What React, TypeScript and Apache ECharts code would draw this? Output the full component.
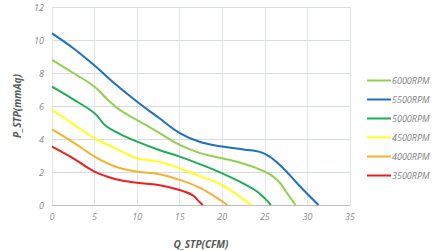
import React, { useEffect, useRef } from "react";
import * as echarts from "echarts";

const seriesNames = ["6000RPM", "5500RPM", "5000RPM", "4500RPM", "4000RPM", "3500RPM"];
const seriesColors = ["#92d050", "#1f6fbf", "#1fae55", "#ffff1a", "#f5b22e", "#f01e1e"];

const s6000: number[][] = [[0, 8.8], [2.5, 8.0], [5, 7.17], [6.5, 6.4], [8, 5.75], [10, 5.15], [12.5, 4.4], [15, 3.64], [17.5, 3.13], [20, 2.83], [22.5, 2.5], [25, 2.02], [26.5, 1.5], [27.5, 0.8], [28.6, 0]];
const s5500: number[][] = [[0, 10.4], [2.5, 9.5], [5, 8.45], [7.5, 7.3], [10, 6.26], [12.5, 5.3], [15, 4.36], [17.5, 3.8], [20, 3.54], [22.5, 3.37], [25, 3.1], [27, 2.3], [29, 1.2], [31.3, 0]];
const s5000: number[][] = [[0, 7.17], [2.5, 6.4], [5, 5.56], [6.3, 4.8], [8, 4.3], [10, 3.84], [12.5, 3.35], [15, 2.93], [17.5, 2.45], [20, 1.92], [22.5, 1.3], [24, 0.85], [25, 0.4], [25.7, 0]];
const s4500: number[][] = [[0, 5.76], [2.5, 4.9], [5, 4.04], [7.5, 3.43], [10, 2.83], [12.5, 2.63], [15, 2.22], [17.5, 1.72], [20, 1.21], [23.4, 0]];
const s4000: number[][] = [[0, 4.59], [2.5, 3.8], [5, 2.93], [7.5, 2.32], [10, 2.02], [12.5, 1.88], [15, 1.52], [17.5, 1.01], [20.6, 0]];
const s3500: number[][] = [[0, 3.54], [2.5, 2.83], [5, 2.02], [7.5, 1.56], [10, 1.35], [12.5, 1.21], [15, 0.91], [16.5, 0.6], [17.2, 0.25], [17.7, 0]];

const allData = [s6000, s5500, s5000, s4500, s4000, s3500];

const xAxisName = "Q_STP(CFM)";
const yAxisName = "P_STP(mmAq)";

export default function App() {
  const ref = useRef<HTMLDivElement>(null);
  useEffect(() => {
    if (!ref.current) return;
    const chart = echarts.init(ref.current, undefined, { renderer: "svg" });
    const font = "'Open Sans', 'Liberation Sans', sans-serif";
    chart.setOption({
      animation: false,
      backgroundColor: "#ffffff",
      grid: { left: 52, right: 84, top: 7, bottom: 46, outerBoundsMode: "none", containLabel: false },
      legend: {
        orient: "vertical",
        left: 362,
        top: 70,
        itemWidth: 24,
        itemHeight: 2,
        itemGap: 8,
        icon: "rect",
        data: seriesNames,
        textStyle: { fontFamily: font, fontStyle: "italic", fontSize: 9, lineHeight: 11, color: "#7f7f7f", padding: [0, 0, 0, -4] },
      },
      xAxis: {
        type: "value",
        min: 0,
        max: 35,
        interval: 5,
        name: xAxisName,
        nameLocation: "middle",
        nameGap: 34,
        nameTextStyle: { fontFamily: font, fontStyle: "italic", fontWeight: "bold", fontSize: 10, color: "#595959" },
        axisLine: { show: true, lineStyle: { color: "#bfbfbf" } },
        axisTick: { show: false },
        axisLabel: { fontFamily: font, fontStyle: "italic", fontSize: 9, color: "#8c8c8c", margin: 7 },
        splitLine: { show: true, lineStyle: { color: "#e3e6eb" } },
      },
      yAxis: {
        type: "value",
        min: 0,
        max: 12,
        interval: 2,
        name: yAxisName,
        nameLocation: "middle",
        nameGap: 30,
        nameTextStyle: { fontFamily: font, fontStyle: "italic", fontWeight: "bold", fontSize: 10, color: "#595959" },
        axisLine: { show: false },
        axisTick: { show: false },
        axisLabel: { fontFamily: font, fontStyle: "italic", fontSize: 9, color: "#8c8c8c", margin: 8 },
        splitLine: { show: true, lineStyle: { color: "#d5dee8" } },
      },
      series: seriesNames.map((n, i) => ({
        name: n,
        type: "line",
        data: allData[i],
        smooth: 0.4,
        showSymbol: false,
        lineStyle: { color: seriesColors[i], width: 2 },
        itemStyle: { color: seriesColors[i] },
      })),
    });
    return () => chart.dispose();
  }, []);
  return <div ref={ref} style={{ width: 434, height: 251, position: "absolute", left: 0, top: 0 }} />;
}
